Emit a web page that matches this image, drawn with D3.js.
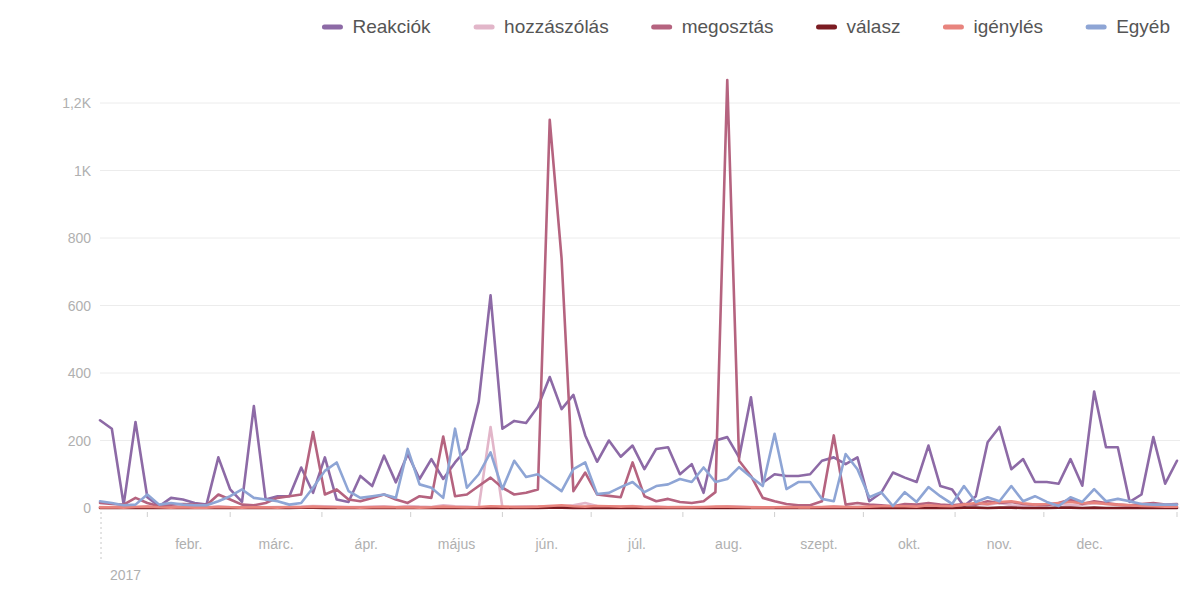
<!DOCTYPE html>
<html><head><meta charset="utf-8">
<script src="https://cdn.jsdelivr.net/npm/d3@7"></script>
<style>body{margin:0;background:#fff;} svg{display:block;font-family:"Liberation Sans",Arial,sans-serif;}</style>
</head><body><svg id="c" width="1185" height="589"></svg>
<script>
const startDate = "2017-01-16";
const stepDays = 4;
const reakciok = [260,235,10,255,32,5,30,25,15,10,
 150,55,18,302,25,35,35,120,45,150,
 25,18,95,65,155,76,160,86,145,86,
 135,175,315,630,235,258,252,300,388,293,
 335,215,137,200,152,185,115,175,180,100,
 130,45,200,210,150,328,75,100,95,95,
 100,140,150,130,150,20,45,105,90,77,
 185,65,55,5,35,195,240,115,145,77,
 77,72,145,66,345,180,180,18,40,210,
 72,140];
const hozzaszolas = [3,2,2,3,5,2,3,2,2,2,
 5,3,2,4,2,3,3,4,6,5,
 4,3,3,4,5,3,6,4,3,8,
 5,4,2,240,2,4,5,4,6,5,
 8,15,6,5,4,6,3,4,3,2,
 3,2,3,5,4,3,2,2,2,3,
 3,2,4,3,3,2,2,3,4,3,
 5,3,4,8,12,10,15,8,6,5,
 10,12,8,10,14,12,8,6,4,3,
 3,2];
const megosztas = [15,12,10,30,15,5,10,12,10,8,
 40,25,10,8,15,30,35,40,225,40,
 55,25,20,30,40,25,15,35,30,212,
 35,40,65,90,60,40,45,55,1150,740,
 50,105,40,36,32,135,35,20,27,18,
 15,20,47,1268,140,95,30,20,12,8,
 8,20,215,10,15,10,8,5,12,10,
 15,10,8,12,10,20,15,18,12,10,
 8,15,25,12,20,15,10,8,12,15,
 10,12];
const valasz = [0,0,0,1,0,0,0,0,0,0,
 0,0,0,0,0,0,0,1,1,0,
 0,0,0,0,0,0,1,0,0,1,
 0,0,0,1,0,0,0,0,1,1,
 0,1,0,0,0,0,0,0,0,0,
 0,0,0,1,0,0,0,0,0,0,
 0,0,1,0,0,0,0,0,0,0,
 0,0,0,1,1,0,1,1,0,0,
 0,1,1,0,1,0,0,0,0,0,
 0,0];
const igenyles = [2,2,1,3,4,2,1,2,1,1,
 3,2,1,2,2,1,3,2,4,3,
 2,2,1,2,3,2,2,1,2,4,
 3,2,3,5,4,3,3,4,6,8,
 5,4,6,5,4,5,3,3,2,3,
 2,3,4,4,3,2,2,2,3,2,
 2,3,4,3,3,4,5,6,5,4,
 8,6,5,10,15,12,18,20,14,10,
 12,15,18,14,16,12,10,8,6,5,
 4,4];
const egyeb = [20,15,8,10,40,10,15,10,8,8,
 20,35,55,30,25,20,10,15,60,110,
 135,50,30,35,40,30,175,70,60,30,
 235,60,100,165,56,140,92,100,75,50,
 115,135,41,45,62,77,47,65,70,86,
 77,120,77,86,121,92,65,220,56,77,
 77,27,20,160,115,32,47,6,47,18,
 62,35,12,65,18,32,20,65,20,35,
 18,6,32,18,56,20,27,20,12,10,
 10,10];

const seriesNames = ["Reakciók","hozzászólás","megosztás","válasz","igénylés","Egyéb"];
const seriesColors = ["#8d6aa6","#e2b6c9","#b5637f","#7b1c22","#e8847e","#8ea5d5"];
const yTicks = [0,200,400,600,800,1000,1200];
const yTickLabels = ["0","200","400","600","800","1K","1,2K"];
const monthLabels = ["febr.","márc.","ápr.","május","jún.","júl.","aug.","szept.","okt.","nov.","dec."];
const yearLabel = "2017";

const seriesData = [reakciok,hozzaszolas,megosztas,valasz,igenyles,egyeb];
const svg = d3.select("#c");
const parse = d3.utcParse("%Y-%m-%d");
const t0 = parse(startDate);
const dates = reakciok.map((_, i) => d3.utcDay.offset(t0, i*stepDays));
const x = d3.scaleUtc().domain([t0, dates[dates.length-1]]).range([100, 1177]);
const y = d3.scaleLinear().domain([0,1200]).range([508,103]);

// grid
svg.append("g").selectAll("line").data(yTicks).join("line")
  .attr("x1",100).attr("x2",1180)
  .attr("y1",d=>y(d)).attr("y2",d=>y(d))
  .attr("stroke","#ececec").attr("stroke-width",1);
svg.append("g").selectAll("text").data(yTicks).join("text")
  .attr("x",91).attr("y",d=>y(d)+5)
  .attr("text-anchor","end").attr("font-size",14).attr("fill","#b0b0b0")
  .text((d,i)=>yTickLabels[i]);

// month ticks
const monthStarts = d3.utcMonth.range(parse("2017-02-01"), parse("2018-01-02"));
const tickDates = monthStarts.slice(0,11).concat([dates[dates.length-1]]);
svg.append("g").selectAll("line").data(tickDates).join("line")
  .attr("x1",d=>x(d)).attr("x2",d=>x(d)).attr("y1",512).attr("y2",517)
  .attr("stroke","#cfcfcf").attr("stroke-width",1);
svg.append("g").selectAll("text").data(monthLabels).join("text")
  .attr("x",(d,i)=>(x(monthStarts[i])+x(monthStarts[i+1]))/2)
  .attr("y",549).attr("text-anchor","middle").attr("font-size",14).attr("fill","#b0b0b0")
  .text(d=>d);
svg.append("line").attr("x1",x(t0)+1).attr("x2",x(t0)+1).attr("y1",512).attr("y2",562)
  .attr("stroke","#c8c8c8").attr("stroke-dasharray","2,3");
svg.append("text").attr("x",x(t0)+10).attr("y",580).attr("font-size",14).attr("fill","#b0b0b0").text(yearLabel);

// lines
const line = d3.line().x((d,i)=>x(dates[i])).y(d=>y(d)).curve(d3.curveLinear);
svg.append("g").selectAll("path").data(seriesData).join("path")
  .attr("d",d=>line(d)).attr("fill","none")
  .attr("stroke",(d,i)=>seriesColors[i]).attr("stroke-width",2.6)
  .attr("stroke-linejoin","round").attr("stroke-linecap","round");

// legend
const lg = svg.append("g");
const items = lg.selectAll("g").data(seriesNames).join("g");
items.append("line").attr("x1",0).attr("x2",16).attr("y1",27).attr("y2",27)
  .attr("stroke",(d,i)=>seriesColors[i]).attr("stroke-width",5).attr("stroke-linecap","round");
items.append("text").attr("x",28).attr("y",33).attr("font-size",19).attr("fill","#555").text(d=>d);
let widths = [];
items.each(function(){ widths.push(this.getBBox().width); });
const gap = 45;
let total = widths.reduce((a,b)=>a+b,0) + gap*(widths.length-1);
let cx = 1170 - total;
items.attr("transform",(d,i)=>{ const tx = cx; cx += widths[i]+gap; return `translate(${tx},0)`; });
</script></body></html>
